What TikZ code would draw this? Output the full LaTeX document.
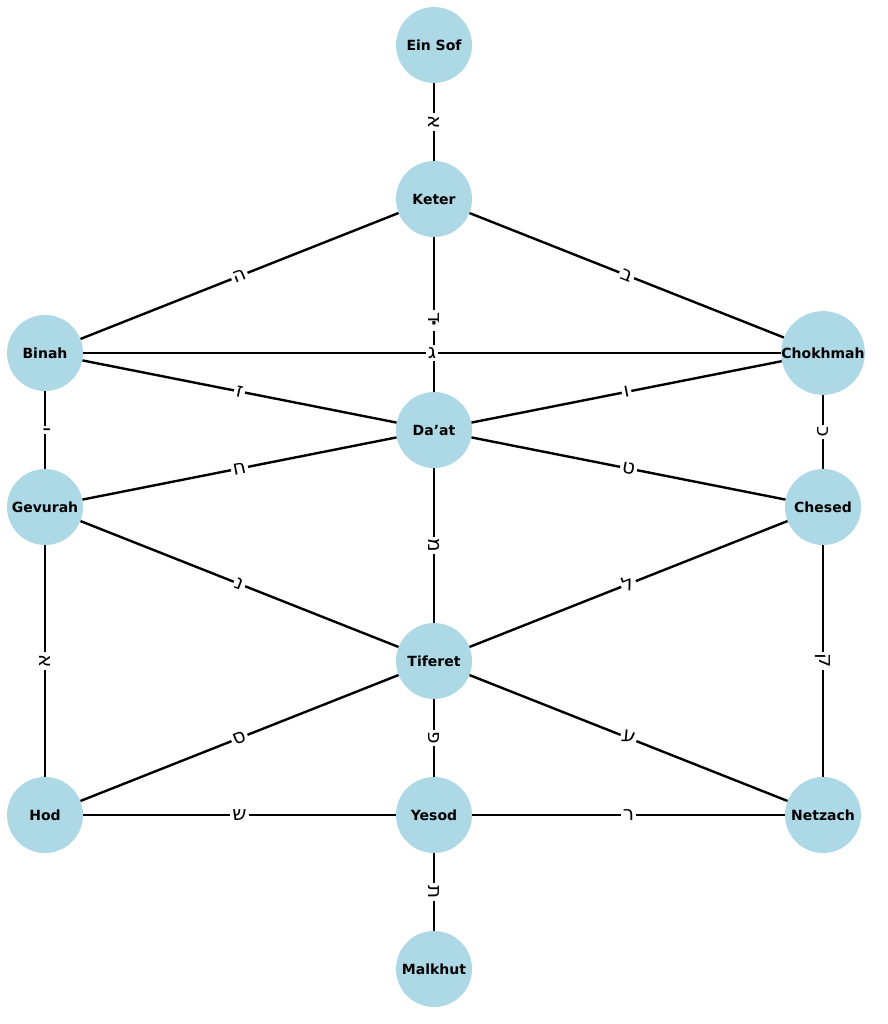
\documentclass[tikz,border=0pt]{standalone}
\usepackage{fontspec}
\setmainfont{DejaVu Sans}
\newfontfamily\hebfont[Script=Hebrew]{DejaVu Sans}
\begin{document}
\begin{tikzpicture}[x=1pt,y=-1pt,
  sef/.style={circle,fill=lightblue,minimum size=76pt,inner sep=0pt,font=\bfseries\fontsize{14}{16}\selectfont},
  edge/.style={line width=2.4pt,black},
  lab/.style={fill=white,inner sep=2pt,font=\hebfont\fontsize{20}{22}\selectfont},
  vlab/.style={lab,rotate=-90}]
\definecolor{lightblue}{RGB}{173,216,230}
\useasboundingbox (0,0) rectangle (887,1024);
\node[sef] (es) at (434,45) {Ein Sof};
\node[sef] (ke) at (434,199) {Keter};
\node[sef] (bi) at (45,353) {Binah};
\node[sef] (ch) at (823,353) {Chokhmah};
\node[sef] (da) at (434,430) {Da’at};
\node[sef] (ge) at (45,507) {Gevurah};
\node[sef] (he) at (823,507) {Chesed};
\node[sef] (ti) at (434,661) {Tiferet};
\node[sef] (ho) at (45,815) {Hod};
\node[sef] (ye) at (434,815) {Yesod};
\node[sef] (ne) at (823,815) {Netzach};
\node[sef] (ma) at (434,969) {Malkhut};
\draw[edge] (es) -- node[vlab] (l1) {א} (ke);
\draw[edge] (ke) -- node[lab,sloped] (l2) {ה} (bi);
\draw[edge] (ke) -- node[lab,sloped] (l3) {ב} (ch);
\draw[edge] (ke) -- node[vlab,pos=0.52] (l4) {ד} (da);
\draw[edge] (bi) -- node[lab] (l5) {ג} (ch);
\draw[edge] (bi) -- node[lab,sloped] (l6) {ז} (da);
\draw[edge] (ch) -- node[lab,sloped] (l7) {ו} (da);
\draw[edge] (bi) -- node[vlab] (l8) {י} (ge);
\draw[edge] (ch) -- node[vlab] (l9) {כ} (he);
\draw[edge] (ge) -- node[lab,sloped] (l10) {ח} (da);
\draw[edge] (da) -- node[lab,sloped] (l11) {ט} (he);
\draw[edge] (da) -- node[vlab] (l12) {מ} (ti);
\draw[edge] (ge) -- node[lab,sloped] (l13) {נ} (ti);
\draw[edge] (he) -- node[lab,sloped] (l14) {ל} (ti);
\draw[edge] (ge) -- node[vlab] (l15) {א} (ho);
\draw[edge] (he) -- node[vlab] (l16) {ק} (ne);
\draw[edge] (ti) -- node[lab,sloped] (l17) {ס} (ho);
\draw[edge] (ti) -- node[vlab] (l18) {פ} (ye);
\draw[edge] (ti) -- node[lab,sloped] (l19) {ע} (ne);
\draw[edge] (ho) -- node[lab] (l20) {ש} (ye);
\draw[edge] (ye) -- node[lab] (l21) {ר} (ne);
\draw[edge] (ye) -- node[vlab] (l22) {ת} (ma);
\node[fill=white,inner sep=1pt,font=\bfseries\fontsize{18}{18}\selectfont] (dot) at (434,326) {·};
\end{tikzpicture}
\end{document}
